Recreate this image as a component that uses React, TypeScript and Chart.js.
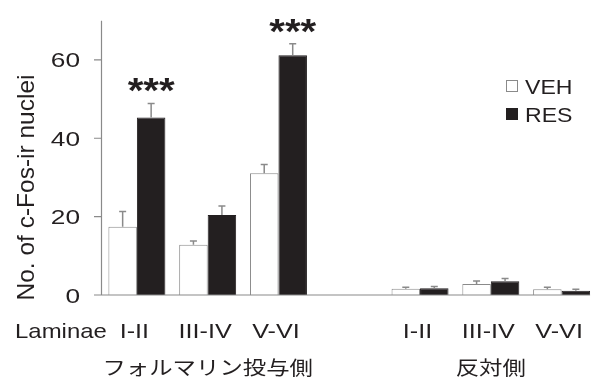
import React, { useEffect, useRef } from "react";
import { Chart, registerables } from "chart.js";

Chart.register(...registerables);

// ---- data ----
const categories = ["I-II", "III-IV", "V-VI", "", "I-II", "III-IV", "V-VI"];
const groupLabels = ["フォルマリン投与側", "反対側"];
const groupCenters = [1, 5]; // category index under which each group label sits
const vehMeans = [17.4, 12.8, 31.1, null, 1.6, 2.8, 1.45];
const vehErr = [3.9, 1.0, 2.2, null, 0.4, 0.8, 0.55];
const resMeans = [45.3, 20.4, 61.2, null, 1.7, 3.5, 1.1];
const resErr = [3.6, 2.3, 2.9, null, 0.5, 0.7, 0.35];
const resSig = ["***", "", "***", "", "", "", ""];
const yTicks = [0, 20, 40, 60];
const yMax = 70;
const yTitle = "No. of c-Fos-ir nuclei";
const xPrefix = "Laminae";
const seriesNames = ["VEH", "RES"];

const INK = "#231f20";
const GREY = "#8a8a8a";
const LATIN = '"Liberation Sans", Arial, sans-serif';
const CJK = '"Noto Sans CJK JP", sans-serif';

function drawText(
  ctx: CanvasRenderingContext2D,
  text: string,
  x: number,
  y: number,
  font: string,
  sx: number,
  align: CanvasTextAlign,
  baseline: CanvasTextBaseline = "alphabetic"
) {
  ctx.save();
  ctx.font = font;
  ctx.fillStyle = INK;
  ctx.textAlign = align;
  ctx.textBaseline = baseline;
  ctx.translate(x, y);
  ctx.scale(sx, 1);
  ctx.fillText(text, 0, 0);
  ctx.restore();
}

const decorPlugin = {
  id: "decor",
  afterDatasetsDraw(chart: any) {
    const ctx: CanvasRenderingContext2D = chart.ctx;
    const xs = chart.scales.x;
    const ys = chart.scales.y;
    const y0 = ys.getPixelForValue(0);
    const yTop = ys.getPixelForValue(yMax);
    const axisX = chart.chartArea.left;
    const metaV = chart.getDatasetMeta(0);
    const metaR = chart.getDatasetMeta(1);

    // error bars
    const drawErr = (meta: any, means: any[], errs: any[]) => {
      ctx.save();
      ctx.strokeStyle = GREY;
      ctx.lineWidth = 1.5;
      meta.data.forEach((bar: any, i: number) => {
        if (means[i] == null || errs[i] == null) return;
        const yb = ys.getPixelForValue(means[i]);
        const ye = ys.getPixelForValue(means[i] + errs[i]);
        ctx.beginPath();
        ctx.moveTo(bar.x, yb);
        ctx.lineTo(bar.x, ye);
        ctx.moveTo(bar.x - 3.5, ye);
        ctx.lineTo(bar.x + 3.5, ye);
        ctx.stroke();
      });
      ctx.restore();
    };
    drawErr(metaV, vehMeans, vehErr);
    drawErr(metaR, resMeans, resErr);

    // axes
    let rightEdge = axisX;
    metaR.data.forEach((bar: any, i: number) => {
      if (resMeans[i] != null) rightEdge = Math.max(rightEdge, bar.x + bar.width / 2);
    });
    ctx.save();
    ctx.strokeStyle = GREY;
    ctx.lineWidth = 1.2;
    ctx.beginPath();
    ctx.moveTo(axisX, yTop);
    ctx.lineTo(axisX, y0);
    ctx.moveTo(axisX - 7.5, y0);
    ctx.lineTo(rightEdge, y0);
    yTicks.forEach((t) => {
      const yy = ys.getPixelForValue(t);
      ctx.moveTo(axisX - 7.5, yy);
      ctx.lineTo(axisX, yy);
    });
    ctx.stroke();
    ctx.restore();

    // y tick labels
    yTicks.forEach((t) => {
      const yy = ys.getPixelForValue(t);
      drawText(ctx, String(t), axisX - 21.5, yy + 7.5, `21px ${LATIN}`, 1.25, "right");
    });

    // y title
    ctx.save();
    ctx.translate(27.5, 187.5);
    ctx.rotate(-Math.PI / 2);
    drawText(ctx, yTitle, 0, 0, `24.5px ${LATIN}`, 1, "center", "middle");
    ctx.restore();

    // x labels
    categories.forEach((c, i) => {
      if (!c) return;
      drawText(ctx, c, xs.getPixelForValue(i) - 2.5, 338, `21px ${LATIN}`, 1.2, "center");
    });
    drawText(ctx, xPrefix, 15, 338, `21px ${LATIN}`, 1.14, "left");

    // group labels
    groupLabels.forEach((g, k) => {
      drawText(ctx, g, xs.getPixelForValue(groupCenters[k]), 368, `19.5px ${CJK}`, 1.2, "center", "middle");
    });

    // significance
    metaR.data.forEach((bar: any, i: number) => {
      if (!resSig[i]) return;
      const yc = ys.getPixelForValue((resMeans[i] as number) + (resErr[i] as number)) - 21;
      drawText(ctx, resSig[i], bar.x, yc + 20, `bold 35px ${LATIN}`, 1.15, "center");
    });

    // legend
    const lx = 506;
    const ly = [80, 108];
    ctx.save();
    ctx.fillStyle = "#ffffff";
    ctx.strokeStyle = GREY;
    ctx.lineWidth = 1;
    ctx.fillRect(lx, ly[0], 12, 12);
    ctx.strokeRect(lx + 0.5, ly[0] + 0.5, 11, 11);
    ctx.fillStyle = INK;
    ctx.fillRect(lx, ly[1], 12, 12);
    ctx.restore();
    seriesNames.forEach((n, k) => {
      drawText(ctx, n, lx + 19, ly[k] + 13.5, `21px ${LATIN}`, 1.1, "left");
    });
  },
};

export default function App() {
  const ref = useRef<HTMLCanvasElement>(null);
  useEffect(() => {
    document.body.style.margin = "0";
    const canvas = ref.current;
    if (!canvas) return;
    const chart = new Chart(canvas, {
      type: "bar",
      data: {
        labels: categories,
        datasets: [
          {
            label: seriesNames[0],
            data: vehMeans as any,
            backgroundColor: "#ffffff",
            borderColor: GREY,
            borderWidth: 1,
            categoryPercentage: 0.805,
            barPercentage: 1,
          },
          {
            label: seriesNames[1],
            data: resMeans as any,
            backgroundColor: INK,
            borderColor: INK,
            borderWidth: 1,
            categoryPercentage: 0.805,
            barPercentage: 1,
          },
        ],
      },
      options: {
        responsive: false,
        animation: false,
        devicePixelRatio: 1,
        layout: { padding: { left: 101.5, right: 0, top: 20.7, bottom: 83 } },
        plugins: { legend: { display: false }, tooltip: { enabled: false } },
        scales: {
          x: { display: false, offset: true },
          y: { display: false, min: 0, max: yMax },
        },
      },
      plugins: [decorPlugin],
    });
    return () => chart.destroy();
  }, []);
  return (
    <div style={{ width: 597, height: 378, background: "#fff" }}>
      <canvas ref={ref} width={597} height={378} style={{ display: "block" }} />
    </div>
  );
}
